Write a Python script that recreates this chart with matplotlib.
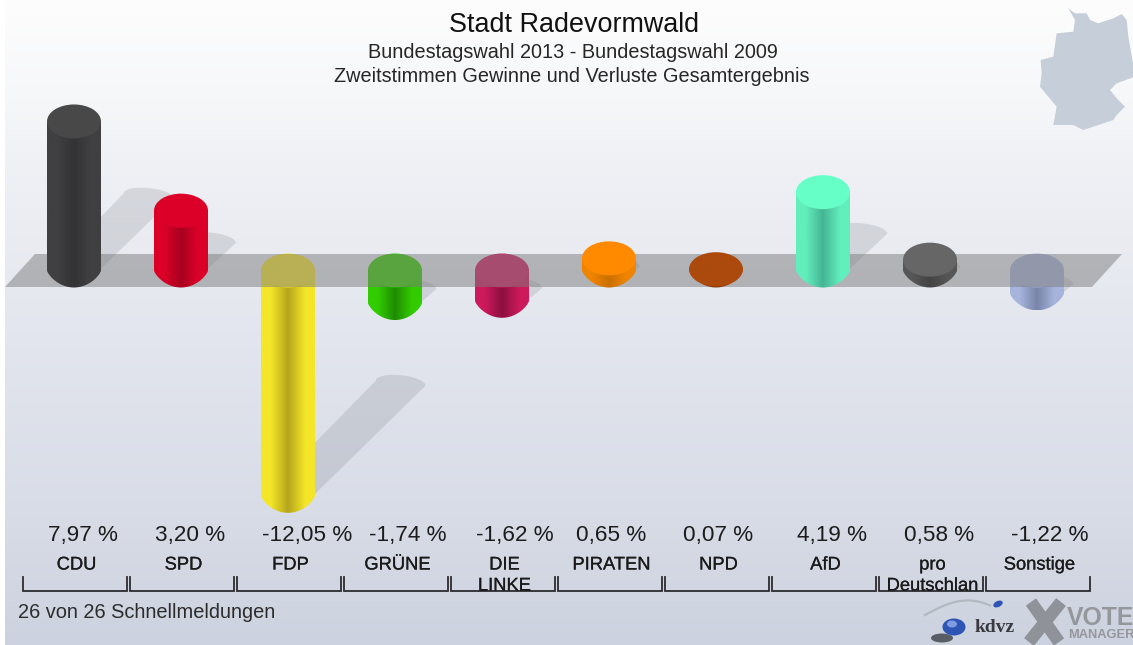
import numpy as np
import matplotlib
matplotlib.use("Agg")
import matplotlib.pyplot as plt
import matplotlib.patheffects as pe
from matplotlib.colors import to_rgb
from matplotlib.patches import Ellipse, PathPatch, Polygon
from matplotlib.path import Path

plt.rcParams["font.family"] = ["Liberation Sans", "DejaVu Sans"]

parties = ["CDU", "SPD", "FDP", "GRÜNE", "DIE\nLINKE", "PIRATEN", "NPD", "AfD", "pro\nDeutschlan", "Sonstige"]
changes = [7.97, 3.20, -12.05, -1.74, -1.62, 0.65, 0.07, 4.19, 0.58, -1.22]
body_colors = ["#403f41", "#dc0028", "#f4e628", "#32cc00", "#cc1a5a", "#f08400", "#a8480e", "#62eebd", "#565656", "#a6b4dc"]
dark_colors = ["#333335", "#a80020", "#b5a51c", "#1f8c00", "#8c1040", "#c87000", "#8a3a0a", "#45b594", "#444444", "#7884a8"]
top_colors = ["#484848", "#dc0028", "#f6e430", "#36cc00", "#d01c60", "#ff8a00", "#ac4a0e", "#66ffc8", "#666666", "#a8b4d8"]

title = "Stadt Radevormwald"
subtitle_1 = "Bundestagswahl 2013 - Bundestagswahl 2009"
subtitle_2 = "Zweitstimmen Gewinne und Verluste Gesamtergebnis"
footer = "26 von 26 Schnellmeldungen"

# layout, in reference pixels
W, H = 1133, 645
FIRST_X, STEP_X = 74, 107
ZERO_Y, PX_PER_PCT = 270.5, 18.7
RX, RY = 27, 17
value_x = [83, 190, 307, 408, 515, 611, 718, 832, 939, 1050]

germany = np.array([(355, 25), (375, 40), (410, 40), (420, 60), (445, 70), (490, 55), (515, 42), (530, 60),
                    (535, 110), (549, 190), (549, 232), (500, 250), (480, 270), (500, 295), (525, 320),
                    (500, 345), (490, 360), (400, 390), (370, 375), (310, 375), (320, 320), (270, 260),
                    (275, 220), (272, 180), (310, 170), (320, 100), (370, 95), (375, 60)]) / 3 + (950, 0)

fig = plt.figure(figsize=(W / 100, H / 100), dpi=100)
px = fig.add_axes([0, 0, 1, 1])
px.axis("off")

# background
bg_y = [0, 100, 160, 330, 500, 645]
bg_colors = np.array([to_rgb(c) for c in ["#fdfdfd", "#f6f7f9", "#f0f1f5", "#e3e6ee", "#d9dde7", "#ccd2df"]])
rows = np.arange(H)
bg = np.stack([np.interp(rows, bg_y, bg_colors[:, c]) for c in range(3)], axis=-1)[:, None, :]
px.imshow(bg, extent=(5, W, H, 0), aspect="auto", zorder=0)
px.set_xlim(0, W)
px.set_ylim(H, 0)
px.add_patch(Polygon(germany, closed=True, fc="#c5ced9", ec="none", zorder=1))

# chart axes: x is the party index, y is the change in percent
ax = fig.add_axes([0, 0, 1, 1], facecolor="none")
ax.axis("off")
xlim = (-FIRST_X / STEP_X, (W - FIRST_X) / STEP_X)
ylim = ((ZERO_Y - H) / PX_PER_PCT, ZERO_Y / PX_PER_PCT)
rx, ry = RX / STEP_X, RY / PX_PER_PCT


def draw_shadow(i, v):
    height = 0.5 * abs(v)
    base = 0 if v > 0 else v
    shift = height * PX_PER_PCT / STEP_X
    t = np.linspace(0, np.pi, 30)
    srx, sry = 25 / STEP_X, 8 / PX_PER_PCT
    top = np.c_[i + shift + srx * np.cos(t), base + height + sry * np.sin(t) - 0.3 * sry * np.cos(t)]
    bottom = np.c_[i - srx * np.cos(t), base - sry * np.sin(t)]
    ax.add_patch(Polygon(np.r_[top, bottom], closed=True, fc=(0.45, 0.47, 0.5, 0.2), ec="none", zorder=1))


def draw_bar(i, v, zorder):
    t = np.linspace(np.pi, 2 * np.pi, 40)
    lower = min(v, 0)
    upper = max(v, 0)
    # the foot is more chamfered than a plain half ellipse
    foot = lower + ry * np.sin(t) * np.abs(np.sin(t)) ** 0.5
    outline = np.r_[[(i - rx, upper)], np.c_[i + rx * np.cos(t), foot], [(i + rx, upper)]]
    clip = PathPatch(Path(np.r_[outline, outline[:1]]), transform=ax.transData, fc="none", ec="none")
    ax.add_patch(clip)
    stops = [0, 0.18, 0.5, 0.82, 1]
    body = np.array(to_rgb(body_colors[i]))
    dark = np.array(to_rgb(dark_colors[i]))
    u = np.linspace(0, 1, 128)
    grad = np.stack([np.interp(u, stops, [body[c], body[c], dark[c], body[c], body[c]]) for c in range(3)], axis=-1)
    img = ax.imshow(grad[None, :, :], extent=(i - rx, i + rx, lower - ry, upper), aspect="auto", zorder=zorder)
    img.set_clip_path(clip)
    ax.add_patch(Ellipse((i, upper), 2 * rx, 2 * ry, fc=top_colors[i], ec="none", zorder=zorder + 0.1))


for i, v in enumerate(changes):
    draw_shadow(i, v)
for i, v in enumerate(changes):
    if v < 0:
        draw_bar(i, v, 2)

band = Polygon([(5, 287), (35, 254), (1122, 254), (1092, 287)], closed=True, transform=px.transData,
               fc=(0.49, 0.49, 0.49, 0.5), ec="none", zorder=3)
ax.add_patch(band)

for i, v in enumerate(changes):
    if v >= 0:
        draw_bar(i, v, 4)

ax.set_xlim(xlim)
ax.set_ylim(ylim)

# titles
px.text(574, 25.5, title, ha="center", va="center", fontsize=19.4, color="#111111", zorder=6)
px.text(573, 52.5, subtitle_1, ha="center", va="center", fontsize=14.3, color="#262626", zorder=6)
px.text(572, 76.5, subtitle_2, ha="center", va="center", fontsize=14.3, color="#262626", zorder=6)

# values, party names, brackets
stroke = [pe.withStroke(linewidth=0.15, foreground="#1a1a1a")]
for i, (name, v) in enumerate(zip(parties, changes)):
    label = f"{v:.2f}".replace(".", ",") + " %"
    fig.text(value_x[i] / W, 1 - 536 / H, label, ha="center", va="center", fontsize=16.2, color="#1c1c1c")
    cx = 76.5 + STEP_X * i
    lines = name.split("\n")
    fig.text(cx / W, 1 - 565 / H, lines[0], ha="center", va="center", fontsize=13.2, color="#1a1a1a", path_effects=stroke)
    if len(lines) > 1:
        fig.text(cx / W, 1 - 586 / H, lines[1], ha="center", va="center", fontsize=13.2, color="#1a1a1a", path_effects=stroke)
    left = 23 + STEP_X * i
    px.plot([left, left, left + 104, left + 104], [577, 590.5, 590.5, 577], color="#2c2c30", lw=1.3, zorder=6, solid_joinstyle="miter")

fig.text(18 / W, 1 - 613 / H, footer, ha="left", va="center", fontsize=14.4, color="#2c2c2c")

# kdvz and vote manager marks
t = np.linspace(0, 1, 40)
px.plot(925 + 65 * t, 615 - 18 * np.sin(t * 2.2) + 5 * t, color="#b4b8c0", lw=1.6, zorder=2)
px.add_patch(Ellipse((942, 638), 22, 9, fc="#33363c", ec="none", alpha=0.75, zorder=3))
px.add_patch(Ellipse((954, 627), 23, 17, fc="#2f55b4", ec="none", zorder=4))
px.add_patch(Ellipse((952, 624), 10, 7, fc="#7f9ce0", ec="none", zorder=4))
px.add_patch(Ellipse((998, 604), 10, 6, angle=-25, fc="#2f55b4", ec="none", zorder=4))
px.text(995, 628, "kdvz", ha="center", va="center", fontsize=14, fontweight="bold", family="Liberation Serif", color="#3a3a40", zorder=5)
px.plot([1031, 1059], [602, 642], color="#8f9298", lw=9, zorder=3, solid_capstyle="butt")
px.plot([1061, 1029], [602, 642], color="#8f9298", lw=9, zorder=3, solid_capstyle="butt")
px.text(1067, 618, "VOTE", ha="left", va="center", fontsize=17.8, fontweight="bold", color="#94979c", zorder=5)
px.text(1068, 634.5, "MANAGER", ha="left", va="center", fontsize=9.3, fontweight="bold", color="#94979c", zorder=5)

px.set_zorder(0)
ax.set_zorder(1)

fig.savefig("out.png", dpi=100)
